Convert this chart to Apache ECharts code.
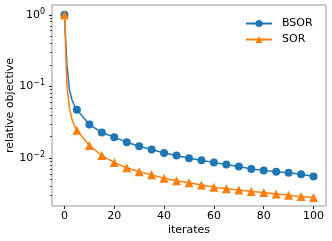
<!DOCTYPE html>
<html>
<head>
<meta charset="utf-8">
<script src="https://cdn.jsdelivr.net/npm/echarts@6/dist/echarts.min.js"></script>
<style>
html,body{margin:0;padding:0;background:#fff;}
#chart{width:332px;height:241px;}
</style>
</head>
<body>
<div id="chart"></div>
<script>
const iterates = [0,1,2,3,4,5,10,15,20,25,30,35,40,45,50,55,60,65,70,75,80,85,90,95,100];
const bsor = [1.0,0.2,0.09,0.065,0.054,0.047,0.0293,0.0227,0.0195,0.0166,0.0146,0.0131,0.0117,0.0108,0.0099,0.0093,0.0086,0.0081,0.0076,0.0070,0.0067,0.0064,0.0062,0.0059,0.0055];
const sor = [1.0,0.1,0.05,0.035,0.028,0.0244,0.0149,0.0108,0.0086,0.0073,0.0064,0.0058,0.0052,0.0048,0.0045,0.0042,0.0039,0.0037,0.00357,0.0034,0.0033,0.00314,0.0030,0.00288,0.0028];
const xTicks = [0,20,40,60,80,100];
const yTicks = [0.01,0.1,1];
const yMinorTicks = [0.003,0.004,0.005,0.006,0.007,0.008,0.009,0.02,0.03,0.04,0.05,0.06,0.07,0.08,0.09,0.2,0.3,0.4,0.5,0.6,0.7,0.8,0.9];

const font = 'DejaVu Sans';
const W = 332, L = 52, R = 6;
function mk(vals, sym){
  return iterates.map((it,i)=>({value:[it, vals[i]], symbol: it%5===0 ? sym : 'none'}));
}
const chart = echarts.init(document.getElementById('chart'), null, {renderer:'canvas'});
chart.setOption({
  animation:false,
  textStyle:{fontFamily:font},
  grid:{left:L,top:5,right:R,bottom:35,containLabel:false,outerBoundsMode:'none',show:true,borderColor:'#999',borderWidth:1,backgroundColor:'transparent'},
  legend:{
    orient:'vertical', left:240, top:13, itemWidth:26, itemHeight:9, itemGap:5,
    textStyle:{fontFamily:font,fontSize:11,color:'#000',padding:[0,0,0,5]},
    data:['BSOR','SOR']
  },
  xAxis:{
    type:'value', min:-5, max:105,
    axisLine:{show:false,onZero:false},
    splitLine:{show:false},
    axisTick:{show:true,customValues:xTicks,length:3,lineStyle:{color:'#222'}},
    axisLabel:{customValues:xTicks,fontFamily:font,fontSize:11,color:'#000',margin:5},
    name:'iterates', nameLocation:'middle', nameGap:19, nameMoveOverlap:false,
    nameTextStyle:{fontFamily:font,fontSize:11,color:'#000'}
  },
  yAxis:[{
    type:'log', min:0.00213, max:1.37, position:'left',
    axisLine:{show:false,onZero:false},
    splitLine:{show:false},
    minorTick:{show:false},
    axisTick:{show:true,customValues:yTicks,length:3,lineStyle:{color:'#222'}},
    axisLabel:{customValues:yTicks,margin:7,
      formatter:function(v){const e=Math.round(Math.log10(v));return '{b|10}{s|'+(e<0?'\u2212'+(-e):e)+'}';},
      rich:{b:{fontFamily:font,fontSize:11,color:'#000',lineHeight:14},s:{fontFamily:font,fontSize:8,color:'#000',verticalAlign:'top',lineHeight:9}}},
    name:'relative objective', nameLocation:'middle', nameGap:36, nameMoveOverlap:false,
    nameTextStyle:{fontFamily:font,fontSize:11,color:'#000'}
  },{
    type:'log', min:0.00213, max:1.37, position:'right', offset:-(W-L-R),
    axisLine:{show:false,onZero:false}, splitLine:{show:false}, axisLabel:{show:false},
    axisTick:{show:true,inside:true,customValues:yMinorTicks,length:2,lineStyle:{color:'#444'}}
  }],
  series:[{
    name:'BSOR', type:'line', data:mk(bsor,'circle'), symbol:'circle', symbolSize:8,
    color:'#1f77b4', lineStyle:{width:1.5,color:'#1f77b4'}, itemStyle:{color:'#1f77b4'}
  },{
    name:'SOR', type:'line', data:mk(sor,'triangle'), symbol:'triangle', symbolSize:9,
    color:'#ff7f0e', lineStyle:{width:1.5,color:'#ff7f0e'}, itemStyle:{color:'#ff7f0e'}
  }]
});
</script>
</body>
</html>
